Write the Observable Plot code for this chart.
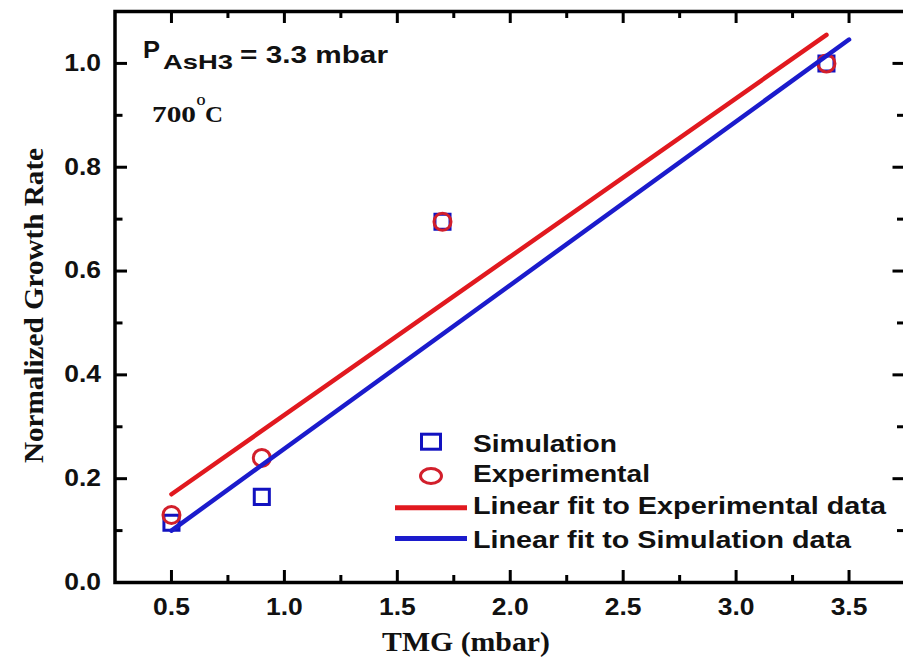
<!DOCTYPE html>
<html><head><meta charset="utf-8">
<script src="https://cdn.jsdelivr.net/npm/d3@7"></script>
<script src="https://cdn.jsdelivr.net/npm/@observablehq/plot@0.6"></script>
<style>
body{margin:0;background:#fff;}
#chart svg{display:block;}
</style></head><body><div id="chart"></div>
<script>
// ---- data ----
const simX = [0.5, 0.9, 1.7, 3.4];
const simY = [0.115, 0.165, 0.695, 1.0];
const expX = [0.5, 0.9, 1.7, 3.4];
const expY = [0.13, 0.24, 0.695, 1.0];
const expFitX = [0.5, 3.4];
const expFitY = [0.17, 1.055];
const simFitX = [0.5, 3.5];
const simFitY = [0.10, 1.046];
const xMajor = [0.5, 1.0, 1.5, 2.0, 2.5, 3.0, 3.5];
const xMinor = [0.75, 1.25, 1.75, 2.25, 2.75, 3.25];
const yMajor = [0.0, 0.2, 0.4, 0.6, 0.8, 1.0];
const yMinor = [0.1, 0.3, 0.5, 0.7, 0.9];
const legendLabels = ["Simulation", "Experimental", "Linear fit to Experimental data", "Linear fit to Simulation data"];
const xTitle = "TMG (mbar)";
const yTitle = "Normalized Growth Rate";

const RED = "#e1191f", RED_DOT = "#d21f2b", BLUE = "#1b1bcc", BLUE_DOT = "#1212c0";
const sim = simX.map((x, i) => ({x, y: simY[i]}));
const exp = expX.map((x, i) => ({x, y: expY[i]}));
const expFit = expFitX.map((x, i) => ({x, y: expFitY[i]}));
const simFit = simFitX.map((x, i) => ({x, y: simFitY[i]}));

const W = 903, H = 657, mL = 114.5, mR = -2, mT = 11, mB = 75;
const fh = H - mT - mB, fw = W - mL - mR;
const sans = "Liberation Sans, Arial, sans-serif";
const serif = "Liberation Serif, Times New Roman, serif";

const chart = Plot.plot({
  width: W, height: H,
  marginLeft: mL, marginRight: mR, marginTop: mT, marginBottom: mB,
  x: {domain: [0.25, 3.75], label: null},
  y: {domain: [0, 1.1], label: null},
  style: {background: "#fff", fontFamily: sans},
  marks: [
    Plot.dot(sim, {x: "x", y: "y", symbol: "square", r: 8.5, stroke: BLUE_DOT, strokeWidth: 3, fill: "none"}),
    Plot.dot(exp, {x: "x", y: "y", symbol: "circle", r: 8.5, stroke: RED_DOT, strokeWidth: 3, fill: "none"}),
    Plot.line(expFit, {x: "x", y: "y", stroke: RED, strokeWidth: 4.5}),
    Plot.line(simFit, {x: "x", y: "y", stroke: BLUE, strokeWidth: 4.5}),
    // inward ticks on all four sides
    Plot.tickX(xMajor, {x: d => d, insetTop: fh - 12, stroke: "#000", strokeWidth: 3}),
    Plot.tickX(xMinor, {x: d => d, insetTop: fh - 7, stroke: "#000", strokeWidth: 3}),
    Plot.tickX(xMajor, {x: d => d, insetBottom: fh - 12, stroke: "#000", strokeWidth: 3}),
    Plot.tickX(xMinor, {x: d => d, insetBottom: fh - 7, stroke: "#000", strokeWidth: 3}),
    Plot.tickY(yMajor, {y: d => d, insetRight: fw - 12.5, stroke: "#000", strokeWidth: 3}),
    Plot.tickY(yMinor, {y: d => d, insetRight: fw - 8, stroke: "#000", strokeWidth: 3}),
    Plot.tickY(yMajor, {y: d => d, insetLeft: fw - 12.5, stroke: "#000", strokeWidth: 3}),
    Plot.tickY(yMinor, {y: d => d, insetLeft: fw - 8, stroke: "#000", strokeWidth: 3}),
    Plot.frame({stroke: "#000", strokeWidth: 3.5}),
    Plot.axisX(xMajor, {tickSize: 0, tickPadding: 16, tickFormat: d => d.toFixed(1), fontSize: 23, fontWeight: "bold", fill: "#111", label: null}),
    Plot.axisY(yMajor, {tickSize: 0, tickPadding: 14, tickFormat: d => d.toFixed(1), fontSize: 23, fontWeight: "bold", fill: "#111", label: null})
  ]
});
document.getElementById("chart").appendChild(chart);

const svg = d3.select(chart);
// widen the sans tick labels a little like the reference
svg.selectAll("text").each(function() {
  if (/^\d\.\d$/.test(this.textContent.trim())) {
    const L = this.getComputedTextLength();
    if (L > 0) {
      this.setAttribute("textLength", (L * 1.15).toFixed(1));
      this.setAttribute("lengthAdjust", "spacingAndGlyphs");
    }
  }
});

const g = svg.append("g").attr("text-anchor", "start");
function txt(s, x, y, opts) {
  const e = g.append("text").attr("x", x).attr("y", y).text(s)
    .attr("font-family", opts.family || sans).attr("font-weight", "bold")
    .attr("font-size", opts.size).attr("fill", "#111")
    .attr("text-anchor", opts.anchor || "start");
  if (opts.len) e.attr("textLength", opts.len).attr("lengthAdjust", "spacingAndGlyphs");
  if (opts.transform) e.attr("transform", opts.transform);
  return e;
}
// axis titles
txt(xTitle, 466, 651, {family: serif, size: 28, len: 168, anchor: "middle"});
txt(yTitle, 0, 0, {family: serif, size: 28, len: 315, anchor: "middle", transform: "translate(43,305.5) rotate(-90)"});
// annotations
txt("P", 143, 57.5, {size: 23, len: 17});
txt("AsH3", 163, 68.5, {size: 21, len: 70});
txt("= 3.3 mbar", 240, 63, {size: 23, len: 148});
txt("700", 152, 122, {family: serif, size: 23, len: 44});
txt("O", 196.5, 104.5, {family: serif, size: 13, len: 9});
txt("C", 205, 122, {family: serif, size: 23, len: 18});

// legend
g.append("rect").attr("x", 431 - 9.5).attr("y", 441.7 - 7.5).attr("width", 19).attr("height", 15)
  .attr("fill", "none").attr("stroke", BLUE_DOT).attr("stroke-width", 3);
g.append("ellipse").attr("cx", 431).attr("cy", 476).attr("rx", 10.5).attr("ry", 7.5)
  .attr("fill", "none").attr("stroke", RED_DOT).attr("stroke-width", 3);
g.append("line").attr("x1", 395).attr("x2", 467).attr("y1", 507.7).attr("y2", 507.7)
  .attr("stroke", RED).attr("stroke-width", 5);
g.append("line").attr("x1", 395).attr("x2", 467).attr("y1", 538.5).attr("y2", 538.5)
  .attr("stroke", BLUE).attr("stroke-width", 5);
const legY = [451.5, 482, 514, 547.5];
const legLen = [144, 177, 413, 378];
legendLabels.forEach((s, i) => txt(s, 473, legY[i], {size: 24, len: legLen[i]}));
</script>
</body></html>
